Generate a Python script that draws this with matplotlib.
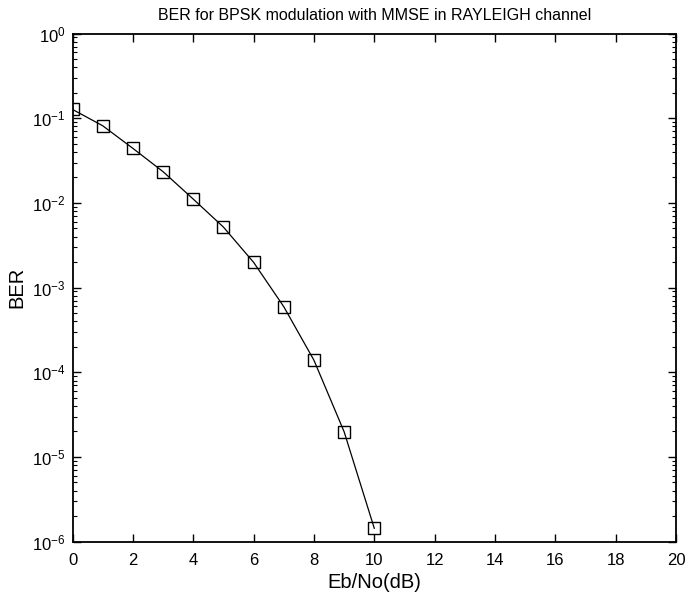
import matplotlib
matplotlib.use("Agg")
import matplotlib.pyplot as plt
import numpy as np

ebno_db = [0, 1, 2, 3, 4, 5, 6, 7, 8, 9, 10]
ber = [0.127, 0.0815, 0.0441, 0.0234, 0.0111, 0.00519, 0.00199,
       5.96e-4, 1.39e-4, 1.99e-5, 1.44e-6]
x_ticks = [0, 2, 4, 6, 8, 10, 12, 14, 16, 18, 20]
y_exponents = [-6, -5, -4, -3, -2, -1, 0]

plt.rcParams['font.family'] = ['Liberation Sans', 'DejaVu Sans']
plt.rcParams['mathtext.fontset'] = 'custom'
plt.rcParams['mathtext.rm'] = 'Liberation Sans'
plt.rcParams['mathtext.it'] = 'Liberation Sans'
plt.rcParams['axes.unicode_minus'] = False

fig = plt.figure(figsize=(6.88, 5.99), dpi=100)
ax = fig.add_axes([0.1054, 0.0957, 0.9826 - 0.1054, 0.944 - 0.0957])

ax.semilogy(ebno_db, ber, color='black', linewidth=0.9, marker='s',
            markersize=9, markerfacecolor='none', markeredgecolor='black',
            markeredgewidth=1.0)

ax.set_xlim(0, 20)
ax.set_ylim(1e-6, 1)
ax.set_xticks(x_ticks)
ax.set_xticklabels([str(t) for t in x_ticks])
ax.minorticks_off()
ax.set_yticks([10.0 ** e for e in y_exponents])
ax.set_yticklabels([r'$\mathregular{10^{%d}}$' % e for e in y_exponents])
minor = [m * 10.0 ** e for e in y_exponents[:-1] for m in range(2, 10)]
ax.set_yticks(minor, minor=True)
ax.yaxis.set_minor_formatter(matplotlib.ticker.NullFormatter())

ax.tick_params(which='both', direction='in', top=True, right=True, labelsize=12)
ax.tick_params(which='major', length=5.5, width=1.0)
ax.tick_params(which='minor', length=3, width=0.8)
ax.tick_params(axis='x', which='major', pad=8.5)
ax.tick_params(axis='y', which='major', pad=5)
for s in ax.spines.values():
    s.set_linewidth(1.3)

ax.set_xlabel('Eb/No(dB)', fontsize=14.5, labelpad=3)
ax.set_ylabel('BER', fontsize=14.5, labelpad=4)
ax.set_title('BER for BPSK modulation with MMSE in RAYLEIGH channel', fontsize=11.5, pad=10)

fig.savefig('out.png', dpi=100)
